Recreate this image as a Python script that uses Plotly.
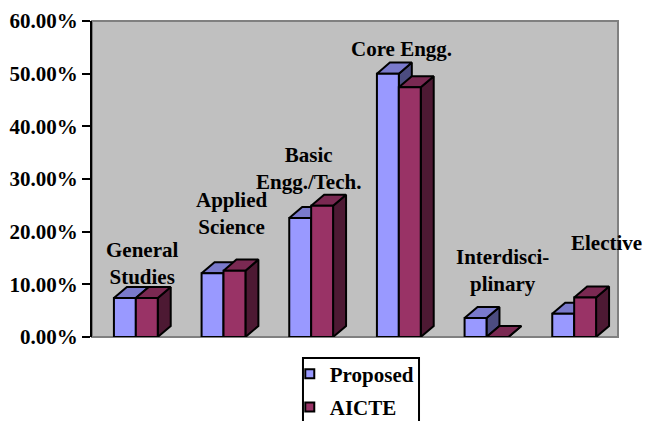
import plotly.graph_objects as go

# ---- data ----
categories = ["General<br>Studies", "Applied<br>Science", "Basic<br>Engg./Tech.",
              "Core Engg.", "Interdisci-<br>plinary", "Elective"]
series_names = ["Proposed", "AICTE"]
proposed = [0.074, 0.121, 0.226, 0.500, 0.036, 0.044]
aicte = [0.074, 0.126, 0.249, 0.474, 0.0, 0.075]
y_ticks = [0.0, 0.1, 0.2, 0.3, 0.4, 0.5, 0.6]

# ---- styling / layout params ----
front_colors = ["#9999FF", "#993366"]
top_colors = ["#7A7ACC", "#7A2952"]
side_colors = ["#4C4C80", "#4D1933"]
bar_w = 0.25          # width of each bar in category units
depth_dx = 0.148      # 3-D depth offset (category units)
depth_dy = 0.021      # 3-D depth offset (axis units)
label_dx = [0.065, 0.094, -0.025, 0.025, 0.177, 0.374]
label_y = [0.140, 0.234, 0.320, 0.546, 0.127, 0.179]

FONT = "Times New Roman, Liberation Serif, DejaVu Serif, serif"
FSIZE = 21

fig = go.Figure()


def poly_trace(xs, ys, color):
    return go.Scatter(x=xs, y=ys, mode="lines", fill="toself", fillcolor=color,
                      line=dict(color="black", width=2), hoverinfo="skip",
                      showlegend=False)


for s, vals in enumerate([proposed, aicte]):
    fx, fy, tx, ty, sx, sy = [], [], [], [], [], []
    for i, h in enumerate(vals):
        x0 = i - bar_w + s * bar_w
        x1 = x0 + bar_w
        # side face
        sx += [x1, x1 + depth_dx, x1 + depth_dx, x1, x1, None]
        sy += [0, depth_dy, h + depth_dy, h, 0, None]
        # top face
        tx += [x0, x1, x1 + depth_dx, x0 + depth_dx, x0, None]
        ty += [h, h, h + depth_dy, h + depth_dy, h, None]
        # front face
        fx += [x0, x1, x1, x0, x0, None]
        fy += [0, 0, h, h, 0, None]
    fig.add_trace(poly_trace(sx, sy, side_colors[s]))
    fig.add_trace(poly_trace(tx, ty, top_colors[s]))
    fig.add_trace(poly_trace(fx, fy, front_colors[s]))

# legend entries
for s, name in enumerate(series_names):
    fig.add_trace(go.Scatter(x=[None], y=[None], mode="markers", name=name,
                             legendgroup=name,
                             marker=dict(symbol="square", size=9, color=front_colors[s],
                                         line=dict(color="black", width=2))))

# category labels
for i, cat in enumerate(categories):
    fig.add_annotation(x=i + label_dx[i], y=label_y[i], text=cat, showarrow=False,
                       xref="x", yref="y", align="center",
                       font=dict(family=FONT, size=FSIZE, color="black", weight="bold"))

# plot-area border (grey)
fig.add_shape(type="rect", xref="paper", yref="paper", x0=0, x1=1, y0=0, y1=1,
              line=dict(color="#808080", width=2), layer="below")
# legend box
fig.add_shape(type="rect", xref="paper", yref="paper", x0=0.4011, x1=0.6217,
              y0=-0.40, y1=-0.0665, line=dict(color="black", width=2),
              fillcolor="white", layer="above")

fig.update_layout(
    width=657, height=421,
    margin=dict(l=92, r=39, t=21, b=84, autoexpand=False),
    paper_bgcolor="white", plot_bgcolor="#C0C0C0",
    font=dict(family=FONT, size=FSIZE, color="black", weight="bold"),
    showlegend=True,
    legend=dict(x=0.376, y=0.160, xanchor="left", yanchor="top", yref="container",
                bgcolor="rgba(0,0,0,0)", borderwidth=0, tracegroupgap=3,
                traceorder="grouped",
                font=dict(family=FONT, size=FSIZE, color="black", weight="bold")),
    xaxis=dict(range=[-0.5, 5.5], showticklabels=False, showgrid=False,
               zeroline=False, showline=False, ticks=""),
    yaxis=dict(range=[0, 0.6], tickvals=y_ticks, tickformat=".2%", showgrid=False,
               zeroline=False, showline=True, linecolor="black", linewidth=2,
               ticks="outside", ticklen=8, tickwidth=2, tickcolor="black"),
)

fig.write_html("out.html")
